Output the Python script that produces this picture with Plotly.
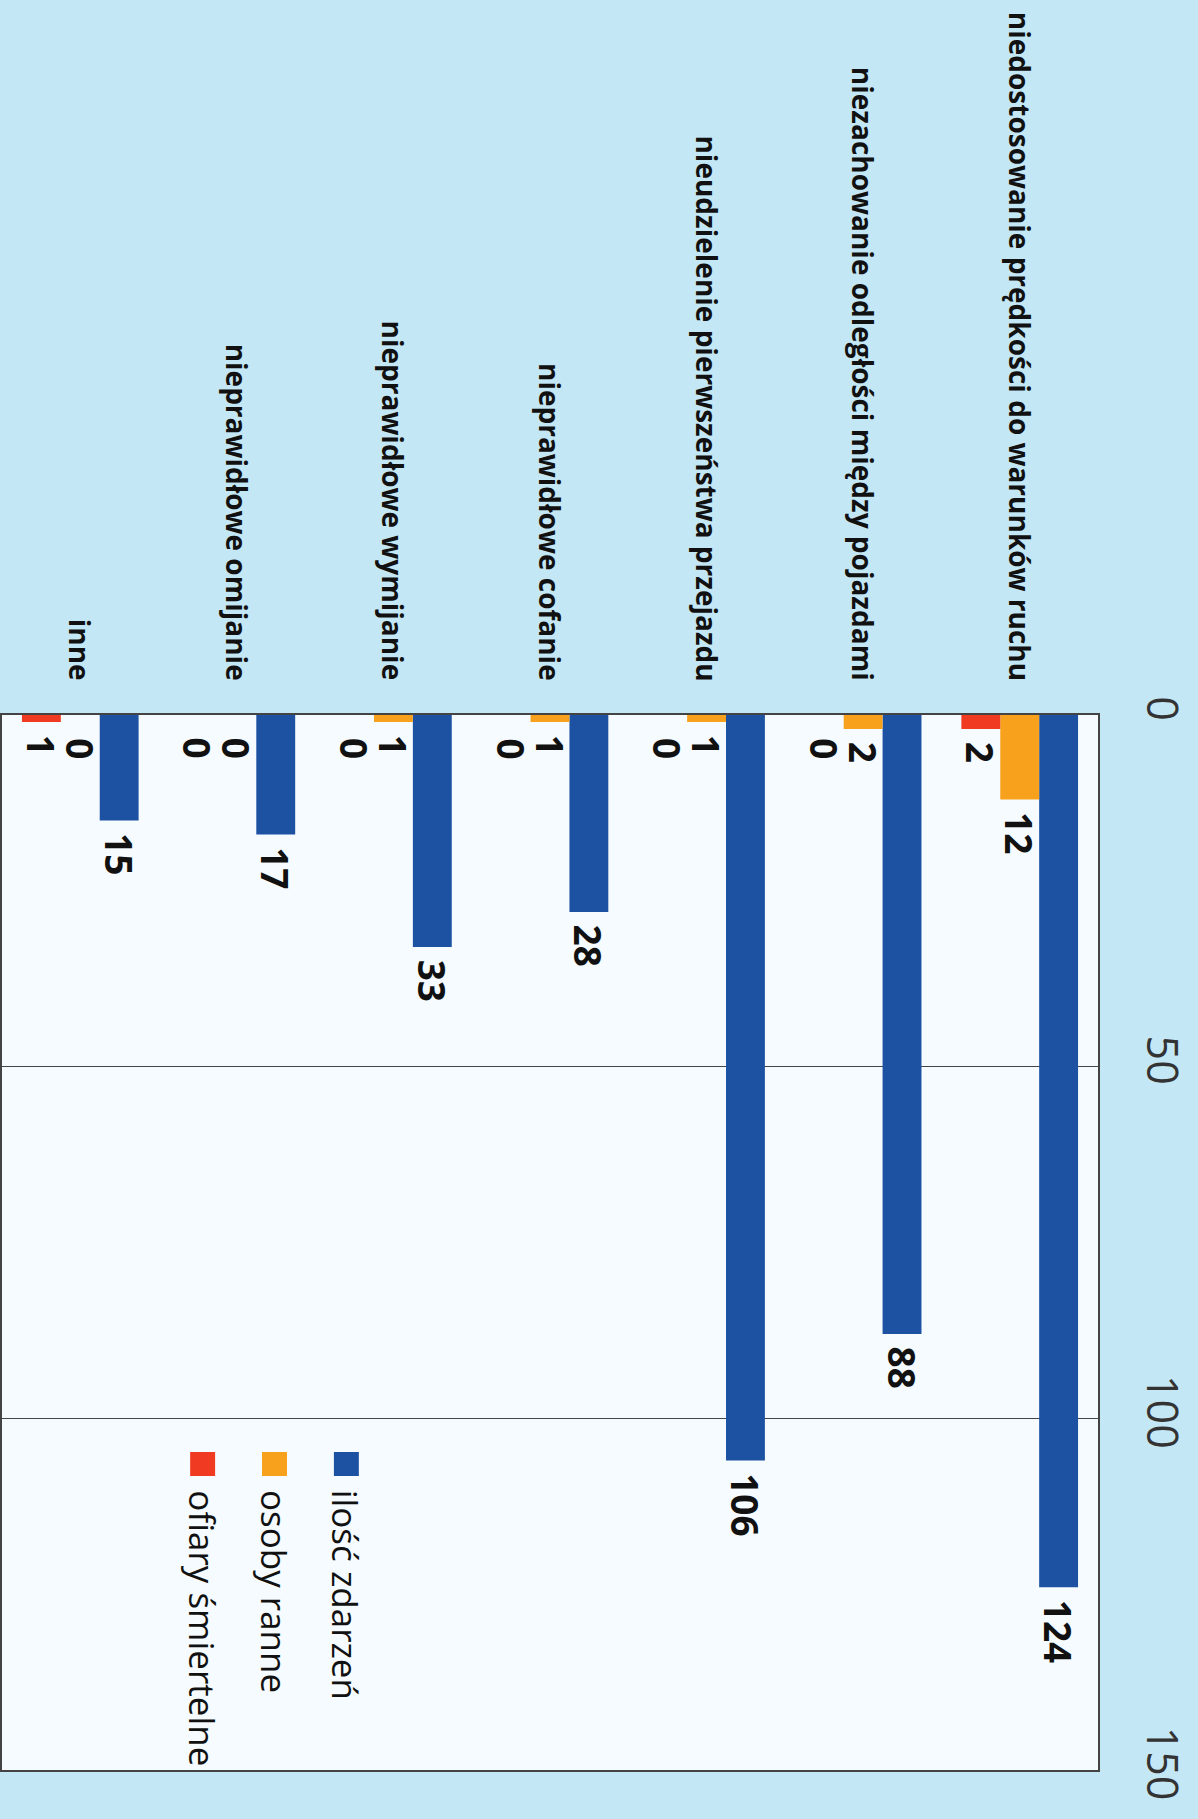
import plotly.graph_objects as go

categories = [
    "niedostosowanie prędkości do warunków ruchu",
    "niezachowanie odległości między pojazdami",
    "nieudzielenie pierwszeństwa przejazdu",
    "nieprawidłowe cofanie",
    "nieprawidłowe wymijanie",
    "nieprawidłowe omijanie",
    "inne",
]
zdarzenia = [124, 88, 106, 28, 33, 17, 15]
ranne = [12, 2, 1, 1, 1, 0, 0]
smiertelne = [2, 0, 0, 0, 0, 0, 1]

series_names = ["ilość zdarzeń", "osoby ranne", "ofiary śmiertelne"]
series_colors = ["#1d52a3", "#f7a11c", "#f03a22"]
tick_values = [0, 50, 100, 150]

W, H = 1198, 1819
M_L, M_R, M_T, M_B = 0, 100, 715, 49
PW, PH = W - M_L - M_R, H - M_T - M_B
BARGAP = 0.255
VAL_FONT = dict(family="Open Sans", size=37, color="#111111", weight="bold")

fig = go.Figure()
all_series = [zdarzenia, ranne, smiertelne]
for name, vals, col in zip(series_names, all_series, series_colors):
    fig.add_trace(go.Bar(
        x=categories, y=vals, name=name, marker=dict(color=col, line=dict(width=0)),
        text=[("\u00a0" + str(v)) if v != 0 else "" for v in vals],
        textposition="outside", textangle=90, textfont=VAL_FONT,
        cliponaxis=False, constraintext="none", showlegend=False,
    ))

# labels of zero-height bars (drawn below the axis line as in the original)
bar_px = PW / len(categories) * (1 - BARGAP) / len(all_series)
for i, vals in enumerate(all_series):
    for c, v in zip(categories, vals):
        if v == 0:
            fig.add_annotation(x=c, xref="x", y=v, yref="y", text=str(v), textangle=90,
                               xshift=(1 - i) * bar_px, yshift=-21, showarrow=False,
                               xanchor="center", yanchor="top", font=VAL_FONT)

# category labels (rotated, above the plot)
for c in categories:
    fig.add_annotation(x=c, xref="x", y=1 + 32 / PH, yref="paper", text=c, textangle=90,
                       showarrow=False, xanchor="center", yanchor="bottom",
                       font=dict(family="Open Sans", size=28, color="#111111", weight="bold"))

# rotated legend
leg_y_top_px = 1452
for i, (name, col) in enumerate(zip(series_names, series_colors)):
    cx = 345 - i * 72
    x0 = (cx - 12.5) / PW
    x1 = (cx + 12.5) / PW
    y1 = (M_T + PH - leg_y_top_px) / PH
    y0 = (M_T + PH - leg_y_top_px - 24) / PH
    fig.add_shape(type="rect", xref="paper", yref="paper", x0=x0, x1=x1, y0=y0, y1=y1,
                  fillcolor=col, line=dict(width=0))
    fig.add_annotation(x=cx / PW, xref="paper", y=(M_T + PH - 1488) / PH, yref="paper",
                       text=name, textangle=90, showarrow=False, xanchor="center", yanchor="top",
                       font=dict(family="Open Sans", size=35, color="#111111"))

fig.update_layout(
    width=W, height=H,
    margin=dict(l=M_L, r=M_R, t=M_T, b=M_B),
    paper_bgcolor="#c4e7f5", plot_bgcolor="#f5fbfe",
    barmode="group", bargap=BARGAP, bargroupgap=0,
    xaxis=dict(type="category", range=[6.5, -0.5], showticklabels=False, ticks="",
               showgrid=False, showline=True, mirror=True, linecolor="#444444", linewidth=1.5,
               zeroline=False, fixedrange=True),
    yaxis=dict(range=[150, 0], side="right", tickvals=tick_values, tickangle=90,
               tickfont=dict(family="Open Sans", size=43, color="#333333"),
               ticks="", ticklabelstandoff=30,
               showgrid=True, gridcolor="#444444", gridwidth=1,
               showline=True, mirror=True, linecolor="#444444", linewidth=1.5,
               zeroline=False, fixedrange=True),
)

fig.write_html("out.html", config={"displayModeBar": False},
               post_script="document.body.style.margin='0';")
